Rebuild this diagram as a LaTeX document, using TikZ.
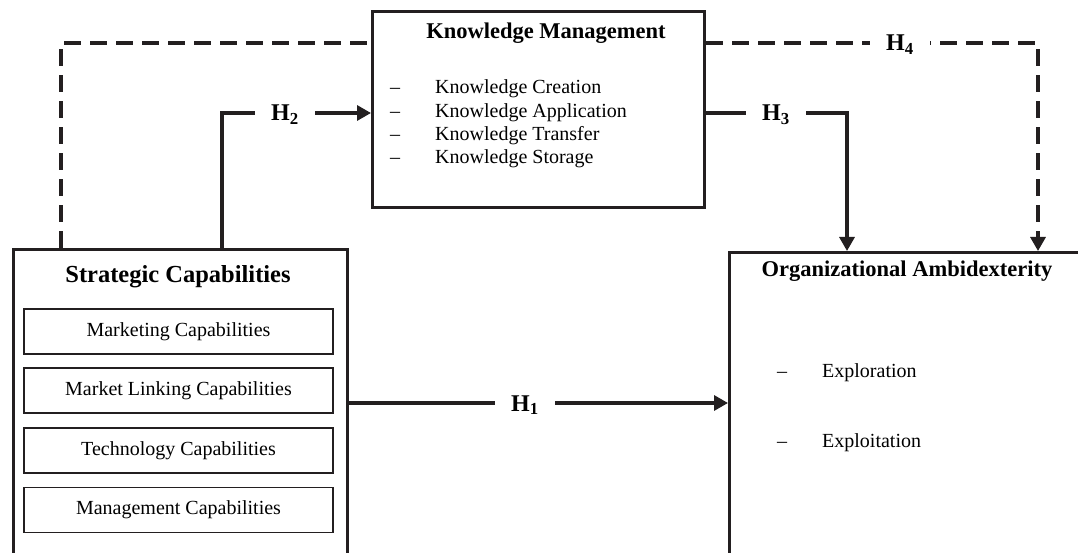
\documentclass[tikz,border=0pt]{standalone}
\usepackage{fontspec}
\setmainfont{Liberation Serif}
\usetikzlibrary{arrows.meta}
\definecolor{ink}{HTML}{231F20}
\begin{document}
\begin{tikzpicture}[x=1pt,y=-1pt,
  frame/.style={draw=ink, line width=3.2pt, anchor=north west, inner sep=0pt},
  subbox/.style={draw=ink, line width=1.8pt, minimum width=309pt, minimum height=45pt, inner sep=0pt, font=\fontsize{20}{24}\selectfont},
  ttl/.style={inner sep=0pt, font=\fontsize{22.5}{26}\selectfont\bfseries},
  item/.style={anchor=base west, inner sep=0pt, font=\fontsize{20}{24}\selectfont},
  bullet/.style={anchor=base, inner sep=0pt, font=\fontsize{20}{24}\selectfont},
  conn/.style={draw=ink, line width=3.2pt, -{Triangle[length=14pt,width=15pt]}},
  dconn/.style={conn, dash pattern=on 17pt off 9pt},
  hyp/.style={fill=white, anchor=base, inner xsep=16pt, inner ysep=3pt, font=\fontsize{24}{28}\selectfont\bfseries}
]
\useasboundingbox (0,0) rectangle (1078,553);
\clip (0,0) rectangle (1078,553);
\fill[white] (0,0) rectangle (1078,553);

% coordinates for connector routes
\coordinate (dx) at (61,0);
\coordinate (h2x) at (222,0);
\coordinate (h2y) at (0,113);
\coordinate (h3x) at (847,0);
\coordinate (h4x) at (1038,0);
\coordinate (h4y) at (0,43);
\coordinate (h1y) at (0,403);

% boxes
\node[frame, minimum width=334pt, minimum height=330pt] (sc) at (12,248) {};
\node[frame, minimum width=332pt, minimum height=196pt] (km) at (371,10) {};
\node[frame, minimum width=400pt, minimum height=330pt] (oa) at (728,251) {};

% Strategic capabilities
\node[ttl, font=\fontsize{24.5}{28}\selectfont\bfseries] (sct) at (178,277) {Strategic Capabilities};
\node[subbox] (s1) at (178.5,331.5) {Marketing Capabilities};
\node[subbox] (s2) at (178.5,390.5) {Market Linking Capabilities};
\node[subbox] (s3) at (178.5,450.5) {Technology Capabilities};
\node[subbox] (s4) at (178.5,510) {Management Capabilities};

% Knowledge management
\node[ttl] (kmt) at (546,33) {Knowledge Management};
\node[bullet] (kb1) at (395,94) {–};
\node[item] (k1) at (435,94) {Knowledge Creation};
\node[bullet] (kb2) at (395,117.3) {–};
\node[item] (k2) at (435,117.3) {Knowledge Application};
\node[bullet] (kb3) at (395,140.6) {–};
\node[item] (k3) at (435,140.6) {Knowledge Transfer};
\node[bullet] (kb4) at (395,164) {–};
\node[item] (k4) at (435,164) {Knowledge Storage};

% Organizational ambidexterity
\node[ttl] (oat) at (907,271) {Organizational Ambidexterity};
\node[bullet] (ob1) at (782,377) {–};
\node[item] (o1) at (822,377) {Exploration};
\node[bullet] (ob2) at (782,447) {–};
\node[item] (o2) at (822,447) {Exploitation};

% connectors
\draw[dconn, -] (sc.north -| dx) |- (km.west |- h4y);
\draw[dconn] (km.east |- h4y) -| (oa.north -| h4x);
\draw[conn] (sc.north -| h2x) |- (km.west |- h2y);
\draw[conn] (km.east |- h2y) -| (oa.north -| h3x);
\draw[conn] (sc.east |- h1y) -- (oa.west |- h1y);

% hypothesis labels
\node[hyp] (H1) at (525,411) {H\textsubscript{1}};
\node[hyp] (H2) at (285,121) {H\textsubscript{2}};
\node[hyp] (H3) at (776,121) {H\textsubscript{3}};
\node[hyp] (H4) at (900,51) {H\textsubscript{4}};
\end{tikzpicture}
\end{document}
